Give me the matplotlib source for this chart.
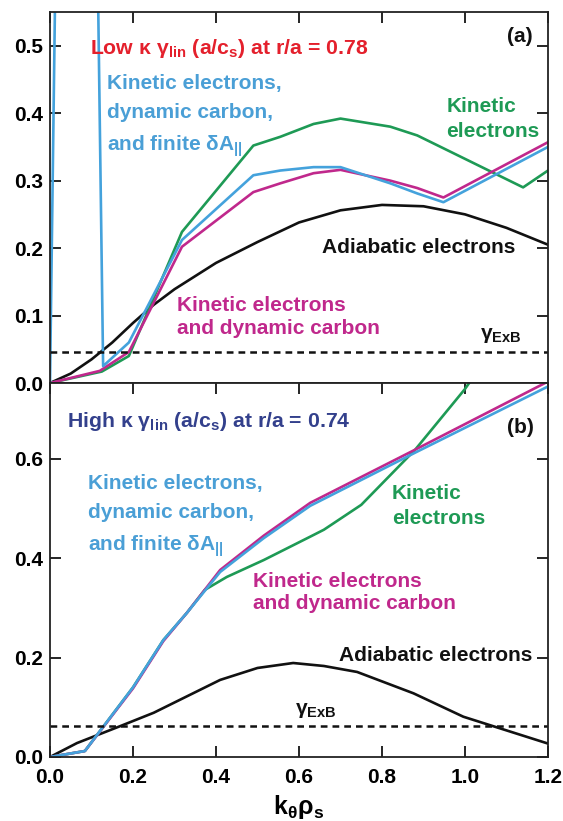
import numpy as np
import matplotlib
matplotlib.use("Agg")
import matplotlib.pyplot as plt
from matplotlib.ticker import FormatStrFormatter

plt.rcParams['font.family'] = ['Liberation Sans Narrow', 'Liberation Sans', 'DejaVu Sans']
plt.rcParams['font.weight'] = 'bold'
plt.rcParams['axes.labelweight'] = 'bold'
plt.rcParams['mathtext.default'] = 'regular'

# ─── DATA ────────────────────────────────────────────────────────────────────
# (a) low kappa, r/a = 0.78
k_a_adiab = [0, 0.05, 0.1, 0.15, 0.2, 0.25, 0.3, 0.4, 0.5, 0.6, 0.7, 0.8, 0.9, 1.0, 1.1, 1.2]
g_a_adiab = [0, 0.014, 0.035, 0.06, 0.089, 0.116, 0.139, 0.178, 0.209, 0.238, 0.256, 0.264, 0.262, 0.25, 0.23, 0.205]

k_a_kin = [0, 0.125, 0.19, 0.318, 0.49, 0.555, 0.635, 0.7, 0.82, 0.885, 1.14, 1.2]
g_a_kin = [0, 0.017, 0.04, 0.224, 0.352, 0.365, 0.384, 0.392, 0.38, 0.367, 0.29, 0.315]

k_a_kc = [0, 0.12, 0.19, 0.318, 0.49, 0.555, 0.635, 0.7, 0.82, 0.885, 0.948, 1.2]
g_a_kc = [0, 0.018, 0.046, 0.202, 0.283, 0.296, 0.311, 0.316, 0.3, 0.289, 0.275, 0.357]

k_a_full = [0, 0.015, 0.113, 0.128, 0.19, 0.318, 0.49, 0.555, 0.635, 0.7, 0.82, 0.885, 0.948, 1.2]
g_a_full = [0, 0.7, 0.7, 0.025, 0.06, 0.212, 0.308, 0.315, 0.32, 0.32, 0.296, 0.281, 0.268, 0.35]

exb_a = 0.046

# (b) high kappa, r/a = 0.74
k_b_adiab = [0, 0.065, 0.169, 0.25, 0.41, 0.5, 0.586, 0.66, 0.74, 0.876, 0.996, 1.2]
g_b_adiab = [0, 0.028, 0.062, 0.089, 0.155, 0.179, 0.189, 0.183, 0.171, 0.128, 0.081, 0.027]

k_b_kin = [0, 0.084, 0.2, 0.273, 0.33, 0.373, 0.426, 0.515, 0.627, 0.66, 0.75, 0.88, 1.0, 1.05]
g_b_kin = [0, 0.012, 0.14, 0.235, 0.29, 0.336, 0.362, 0.396, 0.443, 0.457, 0.507, 0.618, 0.74, 0.8]

k_b_kc = [0, 0.084, 0.2, 0.273, 0.33, 0.41, 0.515, 0.627, 0.88, 1.2]
g_b_kc = [0, 0.012, 0.138, 0.233, 0.29, 0.376, 0.445, 0.511, 0.618, 0.755]

k_b_full = [0, 0.084, 0.2, 0.273, 0.33, 0.41, 0.515, 0.627, 0.88, 1.2]
g_b_full = [0, 0.012, 0.14, 0.235, 0.29, 0.372, 0.44, 0.505, 0.612, 0.745]

exb_b = 0.062

# ─── STYLE ───────────────────────────────────────────────────────────────────
C_BLACK = '#111111'
C_GREEN = '#1e9a55'
C_MAG = '#c0288c'
C_BLUE = '#44a2dc'
C_BLUE_TXT = '#4a9fd6'
C_RED = '#e4202c'
C_NAVY = '#33408c'
LW = 1.9
DASH = (0, (2.7, 2.0))

fig = plt.figure(figsize=(5.63, 8.21), dpi=100)
ax1 = fig.add_axes([50/563, 1-383/821, 498/563, 371/821])
ax2 = fig.add_axes([50/563, 1-757/821, 498/563, 374/821])

def style_axis(ax, ymax, yticks, bottom_labels=False):
    ax.set_xlim(0, 1.2)
    ax.set_ylim(0, ymax)
    ax.set_xticks(np.arange(0, 1.21, 0.2))
    ax.set_yticks(yticks)
    ax.yaxis.set_major_formatter(FormatStrFormatter('%.1f'))
    ax.xaxis.set_major_formatter(FormatStrFormatter('%.1f'))
    ax.tick_params(direction='in', length=8, width=1.2, labelsize=15,
                   left=True, right=True, top=True, bottom=bottom_labels,
                   labelbottom=bottom_labels, pad=5)
    ax.tick_params(axis='x', pad=8)
    for sp in ax.spines.values():
        sp.set_linewidth(1.3)
        sp.set_color('#222222')

# ── panel (a) ───────────────────────────────────────────────────────────────
ax1.plot(k_a_adiab, g_a_adiab, color=C_BLACK, lw=LW)
ax1.plot(k_a_kin, g_a_kin, color=C_GREEN, lw=LW)
ax1.plot(k_a_kc, g_a_kc, color=C_MAG, lw=LW)
ax1.plot(k_a_full, g_a_full, color=C_BLUE, lw=LW)
ax1.axhline(exb_a, color=C_BLACK, lw=1.8, ls=DASH)
style_axis(ax1, 0.55, np.arange(0, 0.51, 0.1))

ax1.text(0.096, 0.496, 'Low κ γ$_{lin}$ (a/c$_{s}$) at r/a = 0.78', color=C_RED,
         fontsize=15.3, va='center', ha='left')
ax1.text(0.137, 0.395, 'Kinetic electrons,\ndynamic carbon,\nand finite δA$_{||}$',
         color=C_BLUE_TXT, fontsize=15, va='center', ha='left', linespacing=1.66)
ax1.text(0.955, 0.391, 'Kinetic\nelectrons', color=C_GREEN, fontsize=15,
         va='center', ha='left', linespacing=1.38)
ax1.text(0.889, 0.2015, 'Adiabatic electrons', color=C_BLACK, fontsize=15,
         va='center', ha='center')
ax1.text(0.306, 0.098, 'Kinetic electrons\nand dynamic carbon', color=C_MAG,
         fontsize=15, va='center', ha='left', linespacing=1.28)
ax1.text(1.036, 0.071, 'γ$_{ExB}$', color=C_BLACK, fontsize=15, va='center', ha='left')
ax1.text(1.133, 0.514, '(a)', color=C_BLACK, fontsize=15, va='center', ha='center')

# ── panel (b) ───────────────────────────────────────────────────────────────
ax2.plot(k_b_adiab, g_b_adiab, color=C_BLACK, lw=LW)
ax2.plot(k_b_kin, g_b_kin, color=C_GREEN, lw=LW)
ax2.plot(k_b_kc, g_b_kc, color=C_MAG, lw=LW)
ax2.plot(k_b_full, g_b_full, color=C_BLUE, lw=LW)
ax2.axhline(exb_b, color=C_BLACK, lw=1.8, ls=DASH)
style_axis(ax2, 0.752, np.arange(0, 0.61, 0.2), bottom_labels=True)

ax2.text(0.04, 0.674, 'High κ γ$_{lin}$ (a/c$_{s}$) at r/a = 0.74', color=C_NAVY,
         fontsize=15.3, va='center', ha='left')
ax2.text(1.133, 0.662, '(b)', color=C_BLACK, fontsize=15, va='center', ha='center')
ax2.text(0.092, 0.484, 'Kinetic electrons,\ndynamic carbon,\nand finite δA$_{||}$',
         color=C_BLUE_TXT, fontsize=15, va='center', ha='left', linespacing=1.66)
ax2.text(0.824, 0.505, 'Kinetic\nelectrons', color=C_GREEN, fontsize=15,
         va='center', ha='left', linespacing=1.38)
ax2.text(0.489, 0.331, 'Kinetic electrons\nand dynamic carbon', color=C_MAG,
         fontsize=15, va='center', ha='left', linespacing=1.2)
ax2.text(0.93, 0.205, 'Adiabatic electrons', color=C_BLACK, fontsize=15,
         va='center', ha='center')
ax2.text(0.59, 0.094, 'γ$_{ExB}$', color=C_BLACK, fontsize=15, va='center', ha='left')
ax2.set_xlabel('k$_{θ}$ρ$_{s}$', fontsize=18, labelpad=4)

fig.savefig('out.png', dpi=100, facecolor='white')
